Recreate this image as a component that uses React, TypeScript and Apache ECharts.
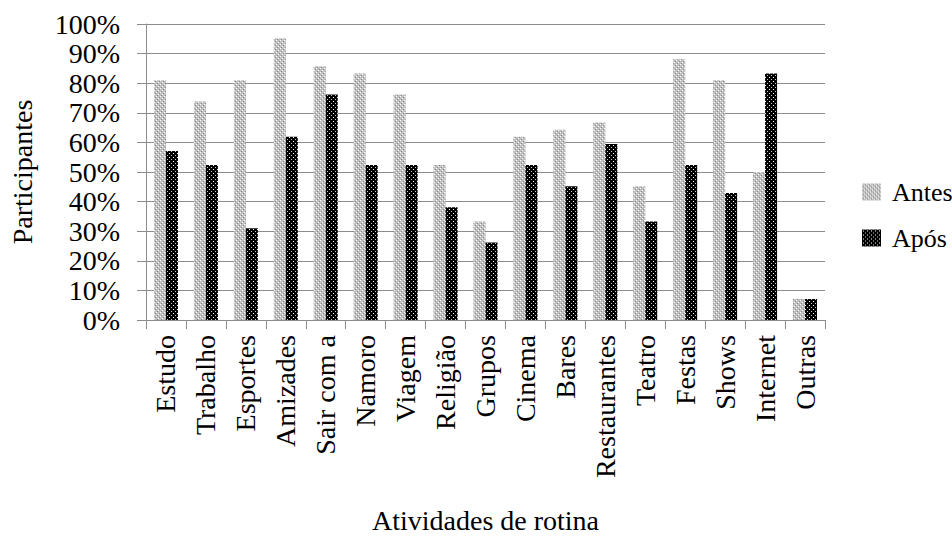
import React, { useEffect, useRef } from "react";
import * as echarts from "echarts";

const categories = [
  "Estudo", "Trabalho", "Esportes", "Amizades", "Sair com a", "Namoro", "Viagem", "Religião",
  "Grupos", "Cinema", "Bares", "Restaurantes", "Teatro", "Festas", "Shows", "Internet", "Outras",
];
const antes = [81.0, 73.8, 81.0, 95.2, 85.7, 83.3, 76.2, 52.4, 33.3, 61.9, 64.3, 66.7, 45.2, 88.1, 81.0, 50.0, 7.1];
const apos = [57.1, 52.4, 31.0, 61.9, 76.2, 52.4, 52.4, 38.1, 26.2, 52.4, 45.2, 59.5, 33.3, 52.4, 42.9, 83.3, 7.1];
const yTicks = { min: 0, max: 100, interval: 10 };

function makeTile(bg: string, dots: [number, number, string][]) {
  const c = document.createElement("canvas");
  c.width = 4;
  c.height = 4;
  const ctx = c.getContext("2d")!;
  ctx.fillStyle = bg;
  ctx.fillRect(0, 0, 4, 4);
  for (const [x, y, col] of dots) {
    ctx.fillStyle = col;
    ctx.fillRect(x, y, 1, 1);
  }
  return c;
}

export default function App() {
  const ref = useRef<HTMLDivElement>(null);
  useEffect(() => {
    if (!ref.current) return;
    const chart = echarts.init(ref.current, undefined, { renderer: "svg" });
    const antesTile = makeTile("#c0c0c0", [
      [0, 0, "#ffffff"], [2, 2, "#ffffff"], [1, 3, "#8a8a8a"], [3, 1, "#8a8a8a"],
    ]);
    const aposTile = makeTile("#000000", [
      [1, 1, "#ffffff"], [3, 3, "#c8c8c8"],
    ]);
    const font = "'Liberation Serif', 'Times New Roman', serif";
    chart.setOption({
      animation: false,
      backgroundColor: "#ffffff",
      textStyle: { fontFamily: font, color: "#000" },
      grid: { left: 146, right: 127, top: 24, bottom: 210, containLabel: false },
      legend: {
        orient: "vertical",
        left: 857,
        top: 173,
        itemWidth: 19,
        itemHeight: 17,
        itemGap: 18,
        icon: "rect",
        textStyle: { fontFamily: font, fontSize: 26, lineHeight: 28, color: "#000", padding: [0, 0, 0, 6] },
        data: ["Antes", "Após"],
      },
      xAxis: {
        type: "category",
        data: categories,
        name: "Atividades de rotina",
        nameLocation: "middle",
        nameGap: 186,
        nameTextStyle: { fontFamily: font, fontSize: 28, color: "#000" },
        axisLine: { lineStyle: { color: "#8c8c8c", width: 1 } },
        axisTick: { show: true, length: 9, lineStyle: { color: "#8c8c8c" } },
        axisLabel: { rotate: 90, interval: 0, margin: 15, fontFamily: font, fontSize: 28, color: "#000" },
      },
      yAxis: {
        type: "value",
        min: yTicks.min,
        max: yTicks.max,
        interval: yTicks.interval,
        name: "Participantes",
        nameLocation: "middle",
        nameRotate: 90,
        nameGap: 110,
        nameTextStyle: { fontFamily: font, fontSize: 28, color: "#000" },
        axisLine: { show: true, lineStyle: { color: "#8c8c8c", width: 1 } },
        axisTick: { show: true, length: 9, lineStyle: { color: "#8c8c8c" } },
        splitLine: { show: true, lineStyle: { color: "#8c8c8c", width: 1 } },
        axisLabel: { formatter: "{value}%", margin: 26, fontFamily: font, fontSize: 28, color: "#000" },
      },
      series: [
        {
          name: "Antes",
          type: "bar",
          data: antes,
          barWidth: 12,
          barGap: "0%",
          itemStyle: { color: { image: antesTile, repeat: "repeat" } as any },
        },
        {
          name: "Após",
          type: "bar",
          data: apos,
          barWidth: 12,
          barGap: "0%",
          itemStyle: { color: { image: aposTile, repeat: "repeat" } as any },
        },
      ],
    });
    return () => chart.dispose();
  }, []);
  return (
    <div
      ref={ref}
      style={{ position: "fixed", left: 0, top: 0, width: 952, height: 539, background: "#fff" }}
    />
  );
}
